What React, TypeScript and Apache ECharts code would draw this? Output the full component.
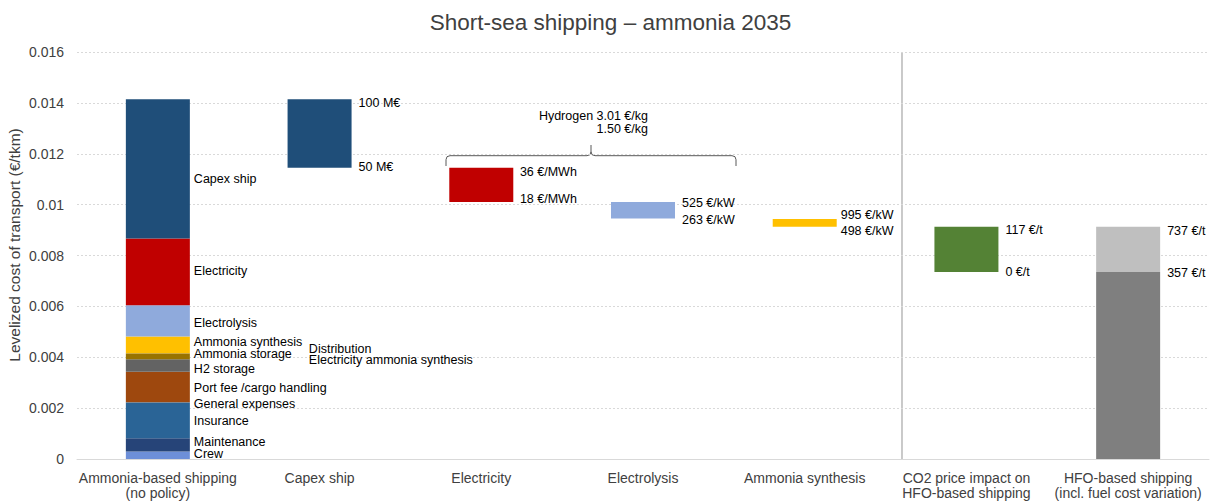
import React, { useEffect, useRef } from "react";
import * as echarts from "echarts";

const FONT = "'Liberation Sans', Arial, sans-serif";

const categories = [
  "Ammonia-based shipping\n(no policy)",
  "Capex ship",
  "Electricity",
  "Electrolysis",
  "Ammonia synthesis",
  "CO2 price impact on\nHFO-based shipping",
  "HFO-based shipping\n(incl. fuel cost variation)",
];

// stacked components of the first bar (bottom to top), €/tkm
const stackNames = [
  "Crew",
  "Maintenance",
  "Insurance",
  "General expenses",
  "Port fee /cargo handling",
  "H2 storage",
  "Ammonia storage",
  "Electricity ammonia synthesis",
  "Distribution",
  "Ammonia synthesis",
  "Electrolysis",
  "Electricity",
  "Capex ship",
];
const stackValues = [
  0.00029, 0.00053, 0.00139, 0.00002, 0.0012, 0.00049, 0.00021, 0.00002,
  0.00002, 0.00065, 0.00122, 0.00263, 0.00547,
];
const stackColors = [
  "#6D8FD8", "#264478", "#2A6496", "#2A6496", "#9E480E", "#636363", "#997300",
  "#B08A1A", "#BF9000", "#FFC000", "#8FAADC", "#C00000", "#1F4E79",
];
const stackLabelOffsets = [
  [0, -1], [0, -2.4], [0, 0.5], [0, 1.8], [0, 0.7], [0, 3.8], [0, -2.8],
  [115, 6.6], [115, -4.6], [0, -2.6], [0, 2.5], [0, -1], [0, 10.4],
];

// floating (sensitivity) bars: invisible base + visible range
const floatBase: (number | string)[] = ["-", 0.01145, 0.0101, 0.00945, 0.00913, 0.00735, "-"];
const hfoBase: (number | string)[] = ["-", "-", "-", "-", "-", "-", 0.00735];
const floatRange: (number | string)[] = ["-", 0.00269, 0.00135, 0.00065, 0.0003, 0.00178, 0.00178];
const floatColors = ["#000", "#1F4E79", "#C00000", "#8FAADC", "#FFC000", "#548235", "#BFBFBF"];
const upperLabels = ["", "100 M€", "36 €/MWh", "525 €/kW", "995 €/kW", "117 €/t", "737 €/t"];
const lowerLabels = ["", "50 M€", "18 €/MWh", "263 €/kW", "498 €/kW", "0 €/t", "357 €/t"];
const upperOffsets = [[0, 0], [7, 4], [6.6, 4], [7, 1], [4, -4.3], [7, 3.3], [7, 4]];
const lowerOffsets = [[0, 0], [7, -1], [6.6, -3], [7, 1.7], [4, 4], [7, 0], [7, 1]];

const hydrogenHigh = "Hydrogen 3.01 €/kg";
const hydrogenLow = "1.50 €/kg";

const yMin = 0;
const yMax = 0.016;
const yInterval = 0.002;

export default function App() {
  const ref = useRef<HTMLDivElement>(null);
  useEffect(() => {
    if (!ref.current) return;
    const chart = echarts.init(ref.current, undefined, { renderer: "svg" });
    const labelStyle = { color: "#000", fontSize: 12.5, lineHeight: 11, fontFamily: FONT };

    const stackSeries = stackNames.map((name, i) => ({
      name,
      type: "bar",
      stack: "total",
      barWidth: 64,
      data: categories.map((_, c) => (c === 0 ? stackValues[i] : "-")),
      itemStyle: { color: stackColors[i] },
      label: {
        show: true,
        position: "right",
        distance: 4,
        formatter: name,
        offset: stackLabelOffsets[i],
        ...labelStyle,
      },
      emphasis: { disabled: true },
    }));

    const mkLabel = (text: string, offset: number[]) => ({
      show: true,
      position: ["100%", 0],
      verticalAlign: "middle",
      align: "left",
      formatter: text,
      offset,
      ...labelStyle,
    });

    const baseSeries = {
      name: "base",
      type: "bar",
      stack: "total",
      barWidth: 64,
      data: floatBase.map((v, i) =>
        v === "-" ? "-" : { value: v, label: mkLabel(lowerLabels[i], lowerOffsets[i]) }
      ),
      itemStyle: { color: "rgba(0,0,0,0)" },
      emphasis: { disabled: true },
      silent: true,
    };

    const hfoSeries = {
      name: "HFO base",
      type: "bar",
      stack: "total",
      barWidth: 64,
      data: hfoBase.map((v, i) =>
        v === "-" ? "-" : { value: v, label: mkLabel(lowerLabels[i], lowerOffsets[i]) }
      ),
      itemStyle: { color: "#7F7F7F" },
      emphasis: { disabled: true },
    };

    const rangeSeries = {
      name: "range",
      type: "bar",
      stack: "total",
      barWidth: 64,
      data: floatRange.map((v, i) =>
        v === "-"
          ? "-"
          : {
              value: v,
              itemStyle: { color: floatColors[i] },
              label: mkLabel(upperLabels[i], upperOffsets[i]),
            }
      ),
      emphasis: { disabled: true },
    };

    const br = { stroke: "#595959", lineWidth: 1, fill: "none" };
    const bx1 = 446, bx2 = 736, bxm = 591, by = 155.7, byEnd = 166, byTop = 145;

    chart.setOption({
      animation: false,
      title: {
        text: "Short-sea shipping – ammonia 2035",
        left: "center",
        top: 6,
        textStyle: { fontFamily: FONT, fontSize: 22.5, fontWeight: "normal", color: "#404040" },
      },
      grid: { left: 77, right: 12, top: 52, bottom: 44, containLabel: false, outerBoundsMode: "none" },
      xAxis: {
        type: "category",
        data: categories,
        axisLine: { show: true, lineStyle: { color: "#D9D9D9", width: 1 } },
        axisTick: { show: false },
        axisLabel: {
          interval: 0,
          margin: 11,
          color: "#404040",
          fontSize: 14,
          lineHeight: 15,
          fontFamily: FONT,
        },
      },
      yAxis: {
        type: "value",
        min: yMin,
        max: yMax,
        interval: yInterval,
        axisLine: { show: false },
        axisTick: { show: false },
        splitLine: { lineStyle: { color: "#D9D9D9", type: [2, 2] } },
        axisLabel: {
          margin: 13,
          color: "#404040",
          fontSize: 14,
          fontFamily: FONT,
          formatter: (v: number) => String(+v.toFixed(3)),
        },
      },
      graphic: [
        {
          type: "text",
          x: 14,
          y: 245,
          rotation: Math.PI / 2,
          style: {
            text: "Levelized cost of transport (€/tkm)",
            fontSize: 15.5,
            fontFamily: FONT,
            fill: "#404040",
            align: "center",
            verticalAlign: "middle",
          },
        },
        { type: "line", shape: { x1: 902, y1: 52, x2: 902, y2: 459 }, style: { stroke: "#A6A6A6", lineWidth: 1.2 } },
        { type: "line", shape: { x1: bx1, y1: byEnd, x2: bx1, y2: by + 4 }, style: br },
        { type: "bezierCurve", shape: { x1: bx1, y1: by + 4, cpx1: bx1, cpy1: by, x2: bx1 + 4, y2: by }, style: br },
        { type: "line", shape: { x1: bx1 + 4, y1: by, x2: bxm - 4, y2: by }, style: br },
        { type: "bezierCurve", shape: { x1: bxm - 4, y1: by, cpx1: bxm, cpy1: by, x2: bxm, y2: by - 4 }, style: br },
        { type: "line", shape: { x1: bxm, y1: by - 4, x2: bxm, y2: byTop }, style: br },
        { type: "bezierCurve", shape: { x1: bxm, y1: by - 4, cpx1: bxm, cpy1: by, x2: bxm + 4, y2: by }, style: br },
        { type: "line", shape: { x1: bxm + 4, y1: by, x2: bx2 - 4, y2: by }, style: br },
        { type: "bezierCurve", shape: { x1: bx2 - 4, y1: by, cpx1: bx2, cpy1: by, x2: bx2, y2: by + 4 }, style: br },
        { type: "line", shape: { x1: bx2, y1: by + 4, x2: bx2, y2: byEnd }, style: br },
        {
          type: "text",
          x: 648,
          y: 115.7,
          style: { text: hydrogenHigh, fontSize: 12.5, fontFamily: FONT, fill: "#000", align: "right", verticalAlign: "middle" },
        },
        {
          type: "text",
          x: 648,
          y: 129.3,
          style: { text: hydrogenLow, fontSize: 12.5, fontFamily: FONT, fill: "#000", align: "right", verticalAlign: "middle" },
        },
      ],
      series: [...stackSeries, baseSeries, hfoSeries, rangeSeries],
    });
    return () => chart.dispose();
  }, []);
  return (
    <div
      ref={ref}
      style={{ position: "fixed", left: 0, top: 0, width: 1221, height: 503, background: "#fff" }}
    />
  );
}
